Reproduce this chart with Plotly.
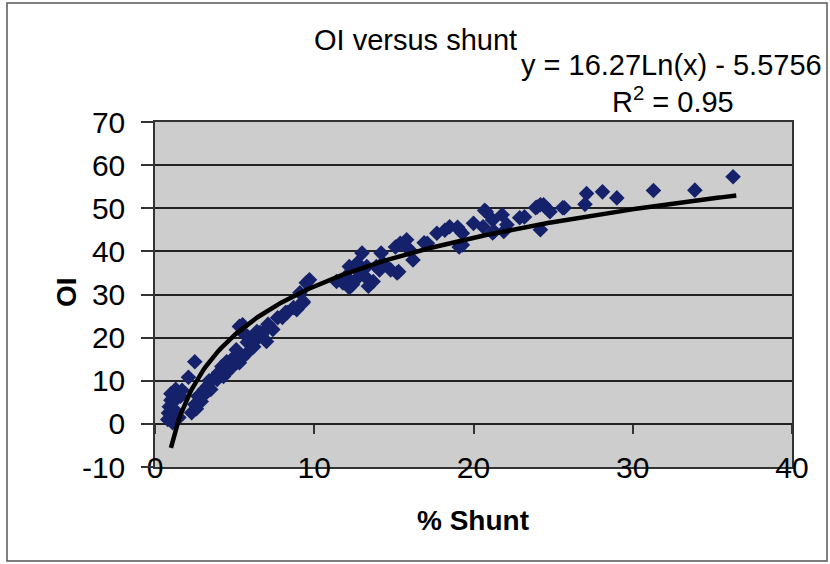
import plotly.graph_objects as go
import numpy as np

# ---- data ----
shunt = [0.8, 0.85, 0.9, 1.0, 1.1, 1.2, 1.0, 1.3, 1.4, 1.6, 1.5, 1.3, 1.7, 2.1, 2.5, 2.3, 2.5, 2.6,
         2.7, 2.9, 3.0, 3.1, 3.3, 3.5, 3.4, 3.6, 3.9, 4.0, 4.2, 4.3, 4.5, 4.5, 4.8, 5.0, 5.1, 5.1,
         5.3, 5.3, 5.5, 5.5, 5.5, 5.8, 5.8, 5.8, 6.2, 6.2, 6.3, 6.4, 6.6, 6.7, 6.8, 7.0, 7.1, 7.4,
         7.7, 8.0, 8.2, 8.3, 8.7, 8.9, 9.1, 9.3, 9.3, 9.5, 9.7,
         11.4, 11.8, 11.9, 12.0, 12.2, 12.2, 12.4, 12.6, 12.7, 12.9, 13.0, 13.3, 13.4, 13.4, 13.7,
         13.9, 14.1, 14.2, 14.3, 14.8, 15.1, 15.2, 15.3, 15.4, 15.8, 15.8, 16.0, 16.2, 16.9, 17.1,
         17.7, 18.2, 18.5, 19.0, 19.1, 19.1, 19.3, 19.3, 20.0, 20.6, 20.7, 20.8, 21.2, 21.2, 21.3,
         21.8, 21.9, 22.1, 22.9, 23.2, 23.9, 24.0, 24.2, 24.2, 24.4, 24.7, 24.8, 25.6, 25.7, 27.0,
         27.1, 28.1, 29.0, 31.3, 33.9, 36.3]
oi = [1.0, 2.5, 4.0, 5.5, 0.3, 7.5, 7.0, 3.0, 6.0, 6.4, 1.5, 8.0, 7.8, 10.8, 14.4, 2.6, 4.5, 3.5,
      6.4, 5.2, 6.4, 8.0, 8.7, 8.0, 10.0, 10.3, 10.3, 11.9, 13.3, 11.0, 14.4, 11.9, 13.0, 15.6, 14.2, 17.2,
      14.2, 22.6, 15.4, 21.2, 23.0, 18.9, 16.5, 20.3, 17.9, 18.9, 19.6, 21.4, 21.2, 20.3, 21.2, 19.1, 23.1, 21.9,
      24.6, 24.7, 25.8, 25.8, 27.0, 26.5, 30.4, 28.1, 28.4, 32.7, 33.4,
      33.0, 32.7, 33.0, 34.2, 36.5, 31.6, 32.3, 33.4, 37.3, 35.0, 39.6, 36.5, 33.4, 31.9, 33.0,
      36.5, 35.7, 39.6, 37.3, 35.7, 41.0, 35.0, 35.3, 41.9, 42.7, 41.0, 40.3, 38.0, 42.0, 41.9,
      44.2, 44.9, 45.7, 45.6, 41.0, 45.0, 44.2, 41.5, 46.5, 45.7, 49.5, 49.2, 47.3, 44.3, 44.6,
      48.5, 44.6, 46.2, 47.8, 48.0, 50.1, 50.3, 50.8, 45.0, 50.8, 49.6, 49.2, 50.1, 50.1, 50.9,
      53.4, 53.8, 52.4, 54.1, 54.2, 57.3]

# logarithmic trendline printed on the chart
fit_a = 16.27
fit_b = -5.5756
fit_x_min = 1.0
fit_x_max = 36.5

x_ticks = [0, 10, 20, 30, 40]
x_tick_text = ["0", "10", "20", "30", "40"]
y_ticks = [-10, 0, 10, 20, 30, 40, 50, 60, 70]
y_tick_text = ["-10", "0", "10", "20", "30", "40", "50", "60", "70"]

FONT = "Liberation Sans, Arial, sans-serif"

# plot-area pixel box (for placing paper-referenced text)
L, R, T, B = 155, 792, 122, 467
W, H = 830, 564


def pp(px, py):
    return (px - L) / (R - L), (B - py) / (B - T)


fx = np.linspace(fit_x_min, fit_x_max, 300)
fy = fit_a * np.log(fx) + fit_b

fig = go.Figure()
fig.add_trace(go.Scatter(x=shunt, y=oi, mode="markers",
                         marker=dict(symbol="diamond", size=12, color="#15226b",
                                     line=dict(width=0)),
                         showlegend=False))
fig.add_trace(go.Scatter(x=fx, y=fy, mode="lines",
                         line=dict(color="black", width=4.5), showlegend=False))
# axis at y = 0 carrying the x tick marks
fig.add_trace(go.Scatter(x=[None], y=[None], xaxis="x2", showlegend=False))

fig.update_layout(
    width=W, height=H,
    margin=dict(l=L, r=W - R, t=T, b=H - B),
    paper_bgcolor="white",
    plot_bgcolor="#cdcdcd",
    font=dict(family=FONT, color="black"),
    xaxis=dict(range=[0, 40], tickvals=x_ticks, ticktext=x_tick_text, showgrid=False,
               zeroline=False, showline=True, linecolor="#333", linewidth=1.5, mirror=True,
               ticks="", tickfont=dict(size=30, family=FONT),
               ticklabelstandoff=-27),
    xaxis2=dict(range=[0, 40], tickvals=x_ticks, overlaying="x", anchor="free",
                position=10 / 80, showgrid=False, zeroline=False, showline=False,
                ticks="outside", ticklen=9, tickwidth=1.5, tickcolor="#333",
                showticklabels=False),
    yaxis=dict(range=[-10, 70], tickvals=y_ticks, ticktext=y_tick_text, showgrid=True,
               gridcolor="#222", gridwidth=1.5, zeroline=False, showline=True,
               linecolor="#333", linewidth=1.5, mirror=True, ticks="outside", ticklen=12,
               tickwidth=1.5, tickcolor="#333", tickfont=dict(size=30, family=FONT),
               ticklabelstandoff=10),
)

ann = []
x, y = pp(415, 40)
ann.append(dict(x=x, y=y, text="OI versus shunt", font=dict(size=29)))
x, y = pp(824, 65)
ann.append(dict(x=x, y=y, xanchor="right", text="y = 16.27Ln(x) - 5.5756", font=dict(size=29)))
x, y = pp(673, 100)
ann.append(dict(x=x, y=y, text="R<sup>2</sup> = 0.95", font=dict(size=29)))
x, y = pp(473, 520)
ann.append(dict(x=x, y=y, text="<b>% Shunt</b>", font=dict(size=28)))
x, y = pp(66, 292)
ann.append(dict(x=x, y=y, text="<b>OI</b>", textangle=-90, font=dict(size=28)))
for a in ann:
    a.update(xref="paper", yref="paper", showarrow=False)
    a.setdefault("xanchor", "center")
    a["yanchor"] = "middle"
    a["font"]["family"] = FONT
    a["font"]["color"] = "black"
fig.update_layout(annotations=ann)

x0, y0 = pp(7, 3)
x1, y1 = pp(827, 561)
fig.add_shape(type="rect", xref="paper", yref="paper", x0=x0, y0=y1, x1=x1, y1=y0,
              line=dict(color="#555", width=1.5), fillcolor="rgba(0,0,0,0)", layer="below")

fig.write_html("out.html")
